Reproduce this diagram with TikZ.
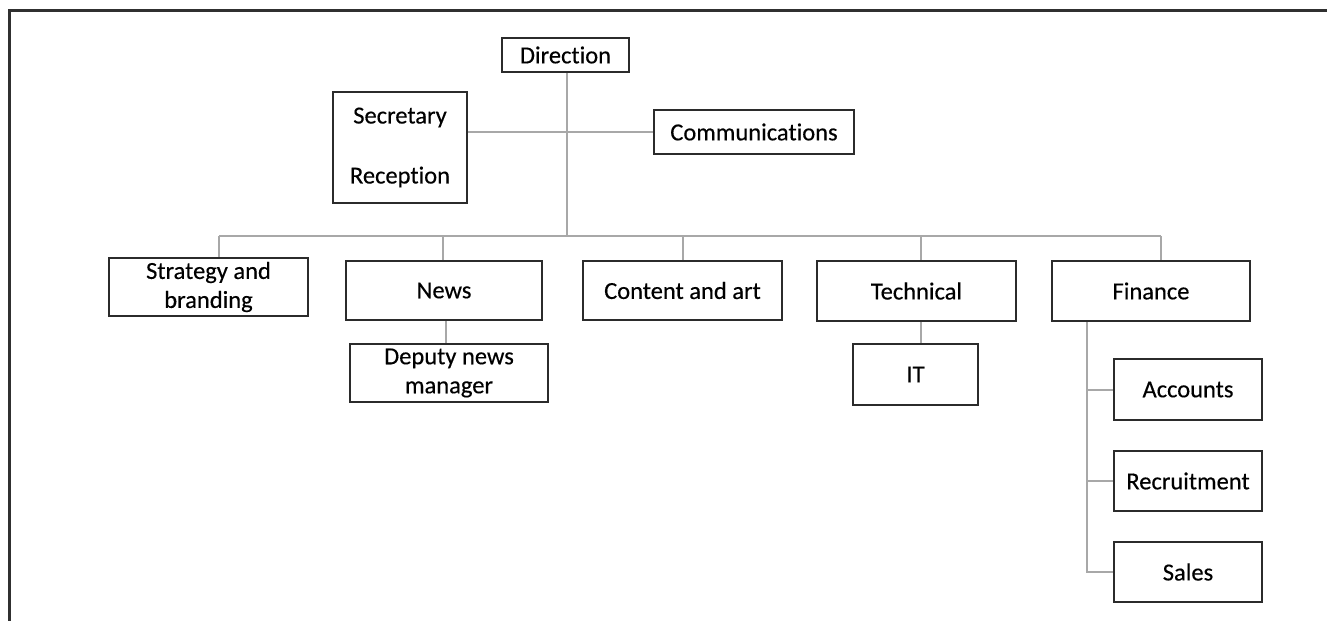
\documentclass[tikz,border=0pt]{standalone}
\usepackage{fontspec}
\setmainfont{Carlito}[Ligatures=NoCommon, FakeBold=0.35]
\definecolor{boxline}{HTML}{2B2B2B}
\definecolor{linkgray}{HTML}{A8A8A8}
\definecolor{frameline}{HTML}{303030}
\begin{document}
\begin{tikzpicture}[x=1pt,y=-1pt,
  unit/.style={draw=boxline, line width=1.6pt, fill=white, inner sep=0pt,
    align=center, font=\fontsize{24.5}{29}\selectfont, text=black},
  link/.style={draw=linkgray, line width=2pt},
  frame/.style={draw=frameline, line width=3pt}]
\useasboundingbox (0,0) rectangle (1327,621);

% page frame (top and left edges)
\draw[frame] (1327,10) -- (9,10) -- (9,621);

% junction points of the main bus and the finance spine
\coordinate (bus)   at (567,236);
\coordinate (dStr)  at (219,236);
\coordinate (dNews) at (443,236);
\coordinate (dCon)  at (683,236);
\coordinate (dTec)  at (921,236);
\coordinate (dFin)  at (1161,236);
\coordinate (dDep)  at (446,0);
\coordinate (finX)  at (1087,0);

% boxes
\node[unit, minimum width=127pt, minimum height=34pt] (dir) at (565.5,55) {Direction};
\node[unit, minimum width=134pt, minimum height=111pt] (sec) at (400,147.5) {Secretary\\[31pt]Reception};
\node[unit, minimum width=200pt, minimum height=44pt] (comm) at (754,132) {Communications};

\node[unit, minimum width=199pt, minimum height=58pt] (strat) at (208.5,287) {Strategy and\\branding};
\node[unit, minimum width=196pt, minimum height=59pt] (news) at (444,290.5) {News};
\node[unit, minimum width=199pt, minimum height=59pt] (cont) at (682.5,290.5) {Content and art};
\node[unit, minimum width=199pt, minimum height=60pt] (tech) at (916.5,291) {Technical};
\node[unit, minimum width=198pt, minimum height=60pt] (fin) at (1151,291) {Finance};

\node[unit, minimum width=198pt, minimum height=58pt] (dep) at (449,373) {Deputy news\\manager};
\node[unit, minimum width=125pt, minimum height=61pt] (it) at (915.5,374.5) {IT};

\node[unit, minimum width=148pt, minimum height=61pt] (acc) at (1188,389.5) {Accounts};
\node[unit, minimum width=148pt, minimum height=60pt] (rec) at (1188,481) {Recruitment};
\node[unit, minimum width=148pt, minimum height=60pt] (sal) at (1188,572) {Sales};

% connectors
\draw[link] (dir.south -| bus) -- (bus);
\draw[link] (comm.west -| sec.east) -- (comm.west);
\draw[link] (dStr) -- (dFin);
\draw[link] (dStr) -- (dStr |- strat.north);
\draw[link] (dNews) -- (dNews |- news.north);
\draw[link] (dCon) -- (dCon |- cont.north);
\draw[link] (dTec) -- (dTec |- tech.north);
\draw[link] (dFin) -- (dFin |- fin.north);
\draw[link] (news.south -| dDep) -- (dep.north -| dDep);
\draw[link] (tech.south -| dTec) -- (it.north -| dTec);
\draw[link] (fin.south -| finX) -- (sal.west -| finX) -- (sal.west);
\draw[link] (acc.west -| finX) -- (acc.west);
\draw[link] (rec.west -| finX) -- (rec.west);
\end{tikzpicture}
\end{document}
